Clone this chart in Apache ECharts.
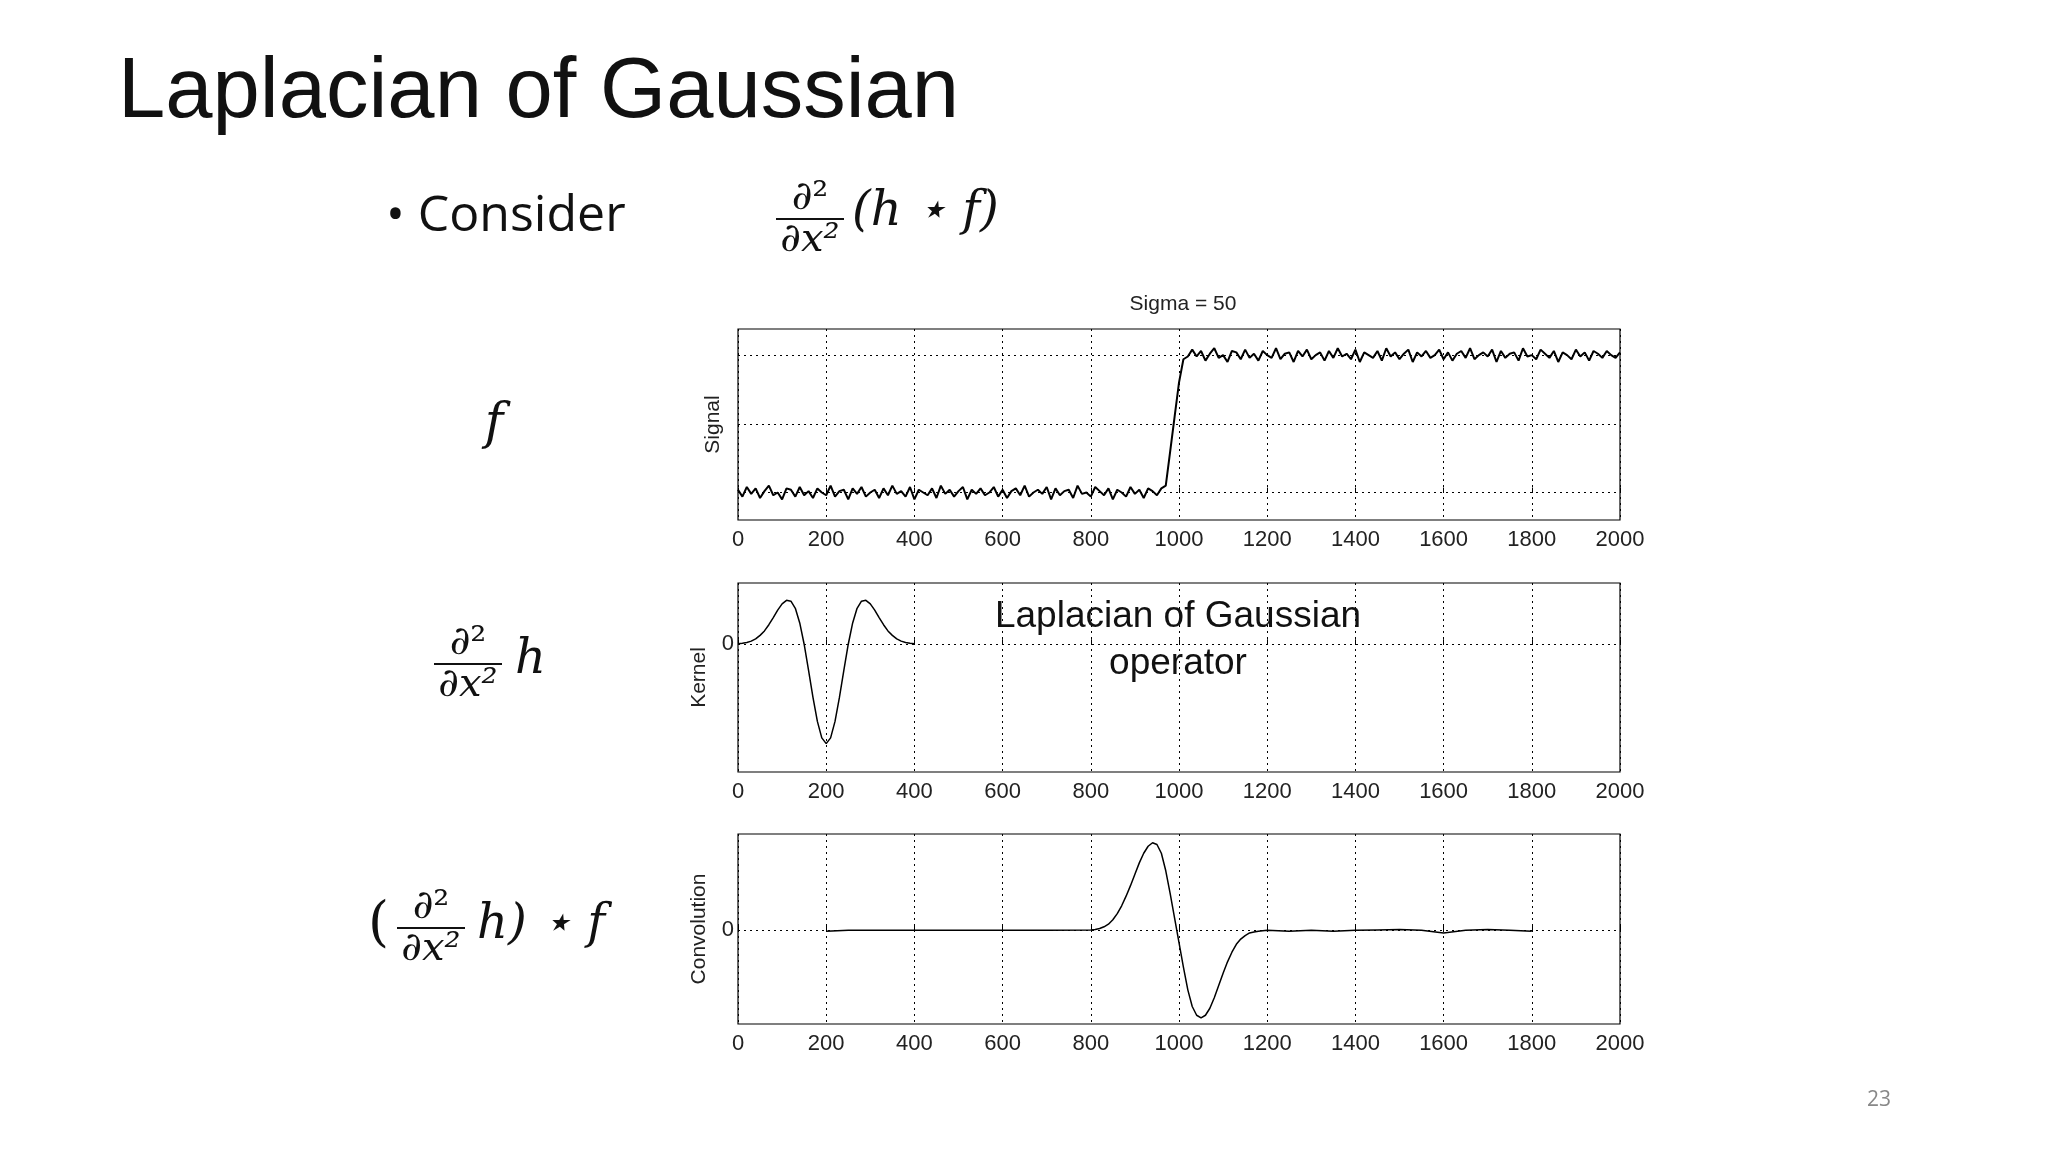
<!DOCTYPE html>
<html><head><meta charset="utf-8">
<script src="https://cdn.jsdelivr.net/npm/echarts@6/dist/echarts.min.js"></script>
<style>html,body{margin:0;padding:0;background:#fff}#c{width:2048px;height:1152px}</style>
</head><body><div id="c"></div>
<script>
// ---- data ----
const xTicks = [0,200,400,600,800,1000,1200,1400,1600,1800,2000];
const signalX = [];
for (let i = 0; i <= 200; i++) signalX.push(i * 10);
const signalY = [
0.02,-0.03,0.04,-0.01,0.03,-0.04,0.01,0.05,-0.02,0.00,-0.05,0.03,0.02,-0.03,0.04,-0.02,0.01,-0.04,0.03,0.00,
-0.02,0.05,-0.03,0.01,0.02,-0.05,0.03,-0.01,0.04,-0.03,0.00,0.02,-0.04,0.03,-0.02,0.05,-0.01,0.01,-0.03,0.04,
-0.05,0.02,0.00,-0.02,0.03,-0.04,0.05,-0.01,0.02,-0.03,0.01,0.04,-0.05,0.02,-0.01,0.03,-0.02,0.00,0.04,-0.03,
0.02,-0.04,0.01,0.03,-0.02,0.05,-0.03,0.00,0.02,-0.01,0.04,-0.05,0.03,-0.02,0.01,0.02,-0.04,0.05,-0.01,0.00,
-0.03,0.04,0.01,-0.02,0.03,-0.05,0.02,0.00,-0.03,0.04,-0.01,0.02,-0.04,0.03,0.01,-0.02,0.03,
0.05,0.30,0.55,0.80,
0.97,0.99,1.04,0.99,1.03,0.96,1.01,1.05,0.98,1.00,0.95,1.03,1.02,0.97,1.04,0.98,1.01,0.96,1.03,1.00,
0.98,1.05,0.97,1.01,1.02,0.95,1.03,0.99,1.04,0.97,1.00,1.02,0.96,1.03,0.98,1.05,0.99,1.01,0.97,1.04,
0.95,1.02,1.00,0.98,1.03,0.96,1.05,0.99,1.02,0.97,1.01,1.04,0.95,1.02,0.99,1.03,0.98,1.00,1.04,0.97,
1.02,0.96,1.01,1.03,0.98,1.05,0.97,1.00,1.02,0.99,1.04,0.95,1.03,0.98,1.01,1.02,0.96,1.05,0.99,1.00,
0.97,1.04,1.01,0.98,1.03,0.95,1.02,1.00,0.97,1.04,0.99,1.02,0.96,1.03,1.01,0.98,1.03,1.00,0.98,1.02
];
const kernelX = [];
for (let i = 0; i <= 40; i++) kernelX.push(i * 10);
const kernelY = [0.01,0.02,0.04,0.07,0.12,0.20,0.30,0.44,0.60,0.77,0.91,0.99,0.97,0.81,0.48,0.00,-0.59,-1.20,-1.74,-2.11,-2.24,
-2.11,-1.74,-1.20,-0.59,0.00,0.48,0.81,0.97,0.99,0.91,0.77,0.60,0.44,0.30,0.20,0.12,0.07,0.04,0.02,0.01];
const convX = [200,250,300,400,500,600,700,800,810,820,830,840,850,860,870,880,890,900,910,920,930,940,950,960,970,980,990,1000,1010,1020,1030,1040,1050,1060,1070,1080,1090,1100,1110,1120,1130,1140,1150,1160,1170,1180,1200,1250,1300,1350,1400,1450,1500,1550,1600,1650,1700,1750,1800];
const convY = [-0.01,0,0,0,0,0,0,0.005,0.01,0.02,0.04,0.07,0.12,0.19,0.28,0.39,0.51,0.64,0.77,0.88,0.96,1.0,0.98,0.88,0.68,0.42,0.14,-0.14,-0.42,-0.68,-0.87,-0.97,-1.0,-0.97,-0.89,-0.77,-0.63,-0.49,-0.36,-0.25,-0.16,-0.10,-0.06,-0.03,-0.02,-0.01,0,-0.01,0,-0.01,0,0.005,0.01,0,-0.03,0,0.01,0,-0.01];

const zip = (a,b)=>a.map((v,i)=>[v,b[i]]);
const grids = [
  {left:738,width:882,top:329,height:191},
  {left:738,width:882,top:583,height:189},
  {left:738,width:882,top:834,height:190}
];
const yRanges = [[-0.2,1.19],[-2.88,1.38],[-1.07,1.10]];
const hLines = [[0,0.5,1],[0],[0]];
const yNames = ['Signal','Kernel','Convolution'];
const series = [zip(signalX,signalY), zip(kernelX,kernelY), zip(convX,convY)];

const tickFont = {fontFamily:'Liberation Sans',fontSize:22,color:'#222'};
const option = {
  animation:false,
  backgroundColor:'#fff',
  grid: grids.map(g=>Object.assign({show:true,borderColor:'#000',borderWidth:1.2,backgroundColor:'#fff'},g)),
  xAxis: grids.map((g,i)=>({gridIndex:i,type:'value',min:0,max:2000,interval:200,
    axisLine:{show:false},axisTick:{inside:true,length:5,lineStyle:{color:'#000'}},
    axisLabel:Object.assign({margin:9,formatter:v=>String(v)},tickFont),
    splitLine:{show:true,lineStyle:{color:'#000',type:[2,4],width:1}}})),
  yAxis: grids.map((g,i)=>({gridIndex:i,type:'value',min:yRanges[i][0],max:yRanges[i][1],
    axisLine:{show:false},axisTick:{show:false},axisLabel:{show:false},splitLine:{show:false},
    name:yNames[i],nameLocation:'middle',nameGap:i===0?14:28,nameRotate:90,
    nameTextStyle:{fontFamily:'Liberation Sans',fontSize:21,color:'#222'}})),
  series: series.map((d,i)=>({type:'line',xAxisIndex:i,yAxisIndex:i,data:d,showSymbol:false,
    lineStyle:{color:'#000',width:i===0?2:1.5},z:3,
    markLine:{silent:true,symbol:'none',
      lineStyle:{color:'#000',type:[2,4],width:1},
      label:{show:i>0,position:'start',formatter:'0',fontFamily:'Liberation Sans',fontSize:22,color:'#222',distance:4},
      data:hLines[i].map(v=>({yAxis:v}))}})),
  title:{text:'Sigma = 50',left:1178,top:289,textAlign:'center',
    textStyle:{fontFamily:'Liberation Sans',fontSize:21,fontWeight:'normal',color:'#222'}},
  graphic:[]
};

const G = option.graphic;
function txt(x,y,s,size,font,extra){G.push({type:'text',x:x,y:y,z:10,style:Object.assign({text:s,font:size+'px '+font,fill:'#111',textVerticalAlign:'middle'},extra||{})});}
function frac(cx,by,size){
  G.push({type:'text',x:cx,y:by-size*0.5,z:10,style:{text:'∂²',font:size+'px DejaVu Serif',fill:'#111',textAlign:'center',textVerticalAlign:'middle'}});
  G.push({type:'line',z:10,shape:{x1:cx-size*0.85,y1:by,x2:cx+size*0.85,y2:by},style:{stroke:'#111',lineWidth:2}});
  G.push({type:'text',x:cx,y:by+size*0.55,z:10,style:{text:'∂x²',font:'italic '+size+'px DejaVu Serif',fill:'#111',textAlign:'center',textVerticalAlign:'middle'}});
}
txt(118,94,'Laplacian of Gaussian',85,'Liberation Sans');
txt(386,217,'• Consider',50,'Open Sans');
frac(810,219,40);
txt(852,213,'(h ⋆ f)',48,'DejaVu Serif',{font:'italic 48px DejaVu Serif'});
txt(494,425,'f',50,'DejaVu Serif',{font:'italic 50px DejaVu Serif',textAlign:'center'});
frac(468,664,40);
txt(515,661,'h',48,'DejaVu Serif',{font:'italic 48px DejaVu Serif'});
txt(368,926,'(',54,'DejaVu Serif');
frac(431,928,40);
txt(477,926,'h) ⋆ f',48,'DejaVu Serif',{font:'italic 48px DejaVu Serif'});
txt(1178,617,'Laplacian of Gaussian',37,'Liberation Sans',{textAlign:'center'});
txt(1178,664,'operator',37,'Liberation Sans',{textAlign:'center'});
txt(1879,1100,'23',21,'Open Sans',{fill:'#888',textAlign:'center'});

echarts.init(document.getElementById('c')).setOption(option);
</script></body></html>
